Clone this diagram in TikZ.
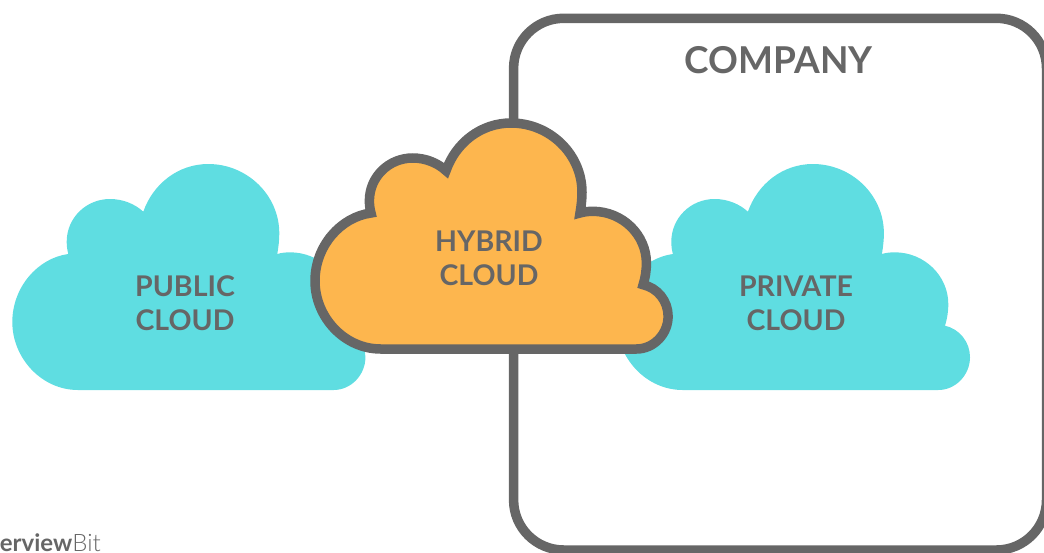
\documentclass[tikz,border=0pt]{standalone}
\usepackage{fontspec}
\setmainfont{Lato}
\newfontfamily\thinfont{Lato Light}
\usepackage{tikz}

\definecolor{cloudcyan}{HTML}{5FDDE1}
\definecolor{cloudorange}{HTML}{FDB64E}
\definecolor{linegrey}{HTML}{666666}

\def\cloudpath{(78,390) .. controls (41.5,390) and (12.3,358) .. (12.3,322)
  .. controls (12.3,287) and (38,258) .. (68.3,254)
  .. controls (67.2,250) and (66.7,246) .. (66.7,241.7)
  .. controls (66.7,218) and (86,199) .. (110,199)
  .. controls (123,199) and (135,204) .. (143.3,211.7)
  .. controls (153,184) and (178,164) .. (208.3,164)
  .. controls (247,164) and (279.3,195) .. (279.3,233.3)
  .. controls (279.3,240) and (278.5,247) .. (277.3,254)
  .. controls (281,252.8) and (286,252.3) .. (290,252.3)
  .. controls (320,252.3) and (343.7,276) .. (343.7,304)
  .. controls (343.7,312) and (342.5,319) .. (340.4,325.7)
  .. controls (355,329) and (365.4,342) .. (365.4,357.3)
  .. controls (365.4,375) and (351,390) .. (333.7,390) -- cycle}

\begin{document}
\begin{tikzpicture}[x=1pt,y=-1pt,
  lbl/.style={text=linegrey,font=\bfseries\fontsize{28.5}{34}\selectfont,align=center},
  softcloud/.style={fill=cloudcyan},
  hardcloud/.style={fill=cloudorange,draw=linegrey,line width=9.5pt,miter limit=10}]
\useasboundingbox (0,0) rectangle (1044,552);

\draw[linegrey,line width=9.5pt,rounded corners=50pt] (513.6,18.3) rectangle (1046.5,550);
\node[lbl,font=\bfseries\fontsize{37}{40}\selectfont] (company) at (778.5,60) {COMPANY};

\foreach \sx/\1 in {0/pub,604.6/priv} {
   \fill[softcloud,shift={(\sx,0)}] \cloudpath;
}
\draw[hardcloud,shift={(302.7,-41)}] \cloudpath;

\node[lbl] (public) at (185,303) {PUBLIC\\CLOUD};
\node[lbl] (private) at (796,303) {PRIVATE\\CLOUD};
\node[lbl] (hybrid) at (489,258) {HYBRID\\CLOUD};

\node[text=linegrey,anchor=base east,inner sep=0pt,font=\fontsize{24}{24}\selectfont] (brand) at (101,551) {\textbf{erview}{\thinfont Bit}};
\end{tikzpicture}
\end{document}
